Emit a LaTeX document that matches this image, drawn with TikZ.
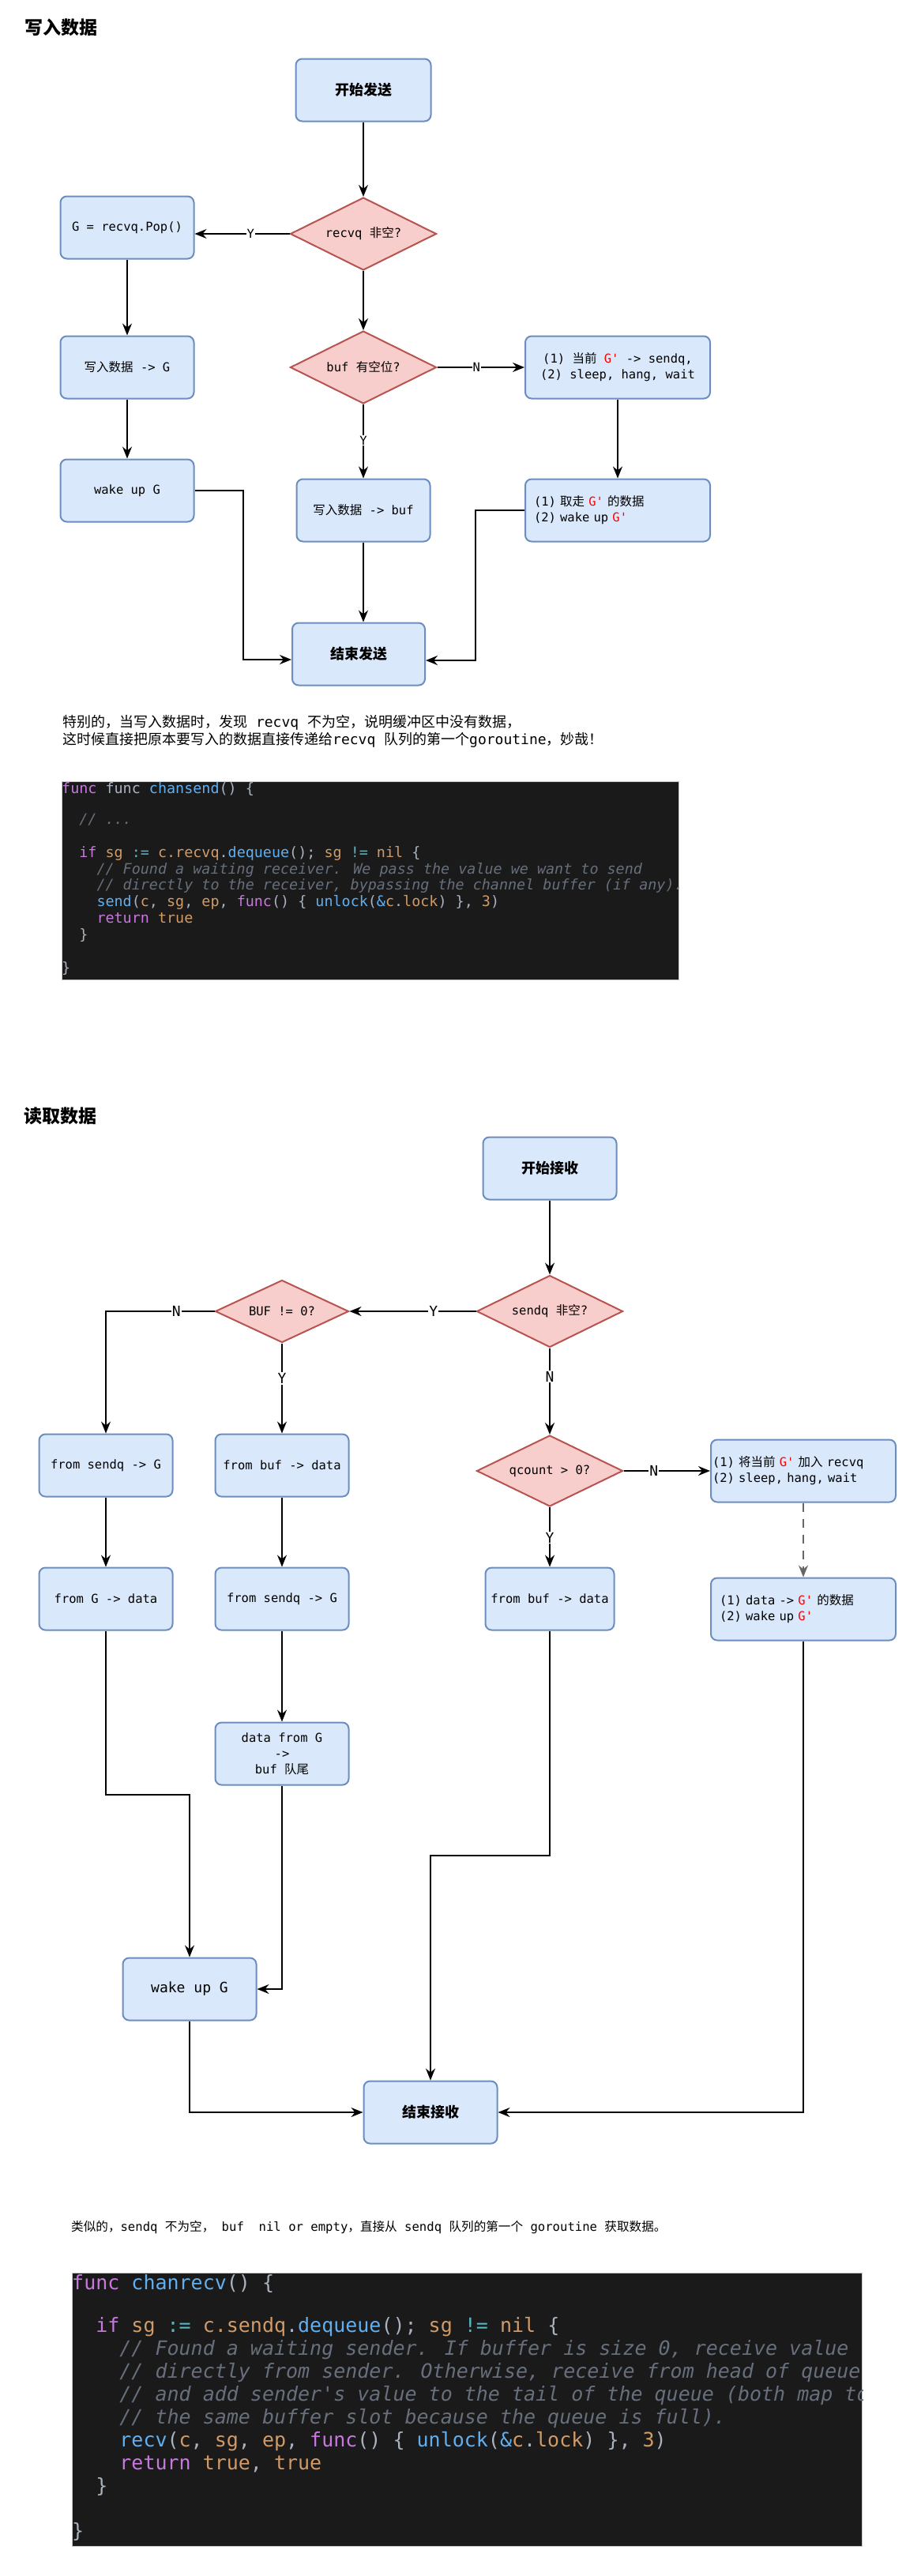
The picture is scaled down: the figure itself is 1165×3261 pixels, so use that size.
\documentclass[tikz,border=0pt]{standalone}
\usepackage{fontspec}
\usetikzlibrary{shapes.geometric,arrows.meta,calc}

\newfontfamily\mono{DejaVu Sans Mono}
\newfontfamily\cjk{Noto Sans CJK SC}

\definecolor{boxfill}{HTML}{DAE8FC}
\definecolor{boxline}{HTML}{6C8EBF}
\definecolor{decfill}{HTML}{F8CECC}
\definecolor{decline}{HTML}{B85450}
\definecolor{codebg}{HTML}{1A1A1A}
\definecolor{cplain}{HTML}{ABB2BF}
\definecolor{ckey}{HTML}{C678DD}
\definecolor{cfunc}{HTML}{61AFEF}
\definecolor{cvar}{HTML}{D19A66}
\definecolor{cop}{HTML}{56B6C2}
\definecolor{ccom}{HTML}{676F7D}
\definecolor{dashgray}{HTML}{666666}

% mixed Latin / Chinese text
\newcommand\zh[1]{{\cjk #1}}
\newcommand\gq{\textcolor{red}{G'}}
% syntax colouring for the code listings
\newcommand\cK[1]{\textcolor{ckey}{#1}}
\newcommand\cF[1]{\textcolor{cfunc}{#1}}
\newcommand\cV[1]{\textcolor{cvar}{#1}}
\newcommand\cO[1]{\textcolor{cop}{#1}}
\newcommand\cC[1]{\textcolor{ccom}{\itshape #1}}
\newcommand\lblfont{\mono\fontsize{15.5}{20}\selectfont}

\begin{document}
\begin{tikzpicture}[x=1pt,y=-1pt,
  box/.style={draw=boxline, fill=boxfill, line width=2pt, rounded corners=8pt,
    minimum width=169pt, minimum height=79pt, inner sep=2pt, align=center, font=\lblfont},
  wbox/.style={box, minimum width=234pt},
  bbox/.style={box, font=\mono\fontsize{18}{22}\selectfont\bfseries},
  dec/.style={diamond, aspect=2, draw=decline, fill=decfill, line width=2pt,
    minimum width=185pt, minimum height=92pt, inner sep=0pt, font=\lblfont},
  arr/.style={line width=1.8pt, -{Stealth[length=15pt,width=12pt,inset=5pt]}},
  lab/.style={fill=white, inner sep=1pt, font=\lblfont},
  labb/.style={fill=white, inner sep=1pt, font=\mono\fontsize{18}{22}\selectfont},
  title/.style={anchor=west, inner sep=0pt, font=\cjk\fontsize{23}{28}\selectfont\bfseries},
  para/.style={anchor=west, inner sep=0pt, text height=0.8em, text depth=0.2em},
  codeA/.style={anchor=west, inner sep=0pt, text=cplain, text height=0.75em, text depth=0.25em,
    font=\mono\fontsize{18.4}{21}\selectfont},
  codeB/.style={codeA, font=\mono\fontsize{25}{29}\selectfont},
  codebox/.style={anchor=north west, fill=codebg, draw=gray!45, line width=1pt, inner sep=0pt}
]
\fill[white] (0,0) rectangle (1165,3261);
\useasboundingbox (0,0) rectangle (1165,3261);

% ---------------- sending ----------------
\node[title] (title1) at (31,35) {写入数据};

\node[bbox, minimum width=171pt] (start1) at (460,114) {\zh{开始发送}};
\node[dec] (d1) at (460,296) {recvq \zh{非空}?};
\node[box] (pop) at (161,288) {G = recvq.Pop()};
\node[box] (w1) at (161,465) {\zh{写入数据} -> G};
\node[box] (wake1) at (161,621) {wake up G};
\node[dec] (d2) at (460,465) {buf \zh{有空位}?};
\node[wbox] (sendq1) at (782,465) {(1) \zh{当前} \gq{} -> sendq,\\(2) sleep, hang, wait};
\node[box] (wbuf) at (460,646) {\zh{写入数据} -> buf};
\node[wbox, text width=212pt, inner xsep=11pt, align=left] (take1) at (782,646)
  {(1) \zh{取走} \gq{} \zh{的数据}\\(2) wake up \gq};
\node[bbox, minimum width=168pt] (end1) at (454,828) {\zh{结束发送}};

\draw[arr] (start1.south) -- (d1.north);
\draw[arr] (d1.west) -- node[lab, pos=0.41] {Y} (d1.west -| pop.east);
\draw[arr] (d1.south) -- (d2.north);
\draw[arr] (pop.south) -- (w1.north);
\draw[arr] (w1.south) -- (wake1.north);
\draw[arr] (d2.east) -- node[lab, pos=0.45] {N} (sendq1.west);
\draw[arr] (d2.south) -- node[lab, pos=0.49] {Y} (wbuf.north);
\draw[arr] (sendq1.south) -- (take1.north);
\draw[arr] (wbuf.south) -- (wbuf.south |- end1.north);
\coordinate (k1) at (308,835);
\draw[arr] (wake1.east) -| (k1) -- (k1 -| end1.west);
\coordinate (k2) at (602,836);
\draw[arr] (take1.west) -| (k2) -- (k2 -| end1.east);

\node[para, font=\mono\fontsize{18}{22}\selectfont] (p1a) at (79,917)
  {\zh{特别的，当写入数据时，发现} recvq \zh{不为空，说明缓冲区中没有数据，}};
\node[para, font=\mono\fontsize{18}{22}\selectfont] (p1b) at (79,939)
  {\zh{这时候直接把原本要写入的数据直接传递给}recvq \zh{队列的第一个}goroutine\zh{，妙哉！}};

\node[codebox, minimum width=781pt, minimum height=251pt] (code1) at (78,989) {};
\begin{scope}
  \clip (code1.north west) rectangle (code1.south east);
  \node[codeA] (a0) at (78,1002) {\cK{func} func \cF{chansend}() \{};
  \node[codeA] (a2) at (78,1040.8) {\phantom{xx}\cC{// ...}};
  \node[codeA] (a4) at (78,1082.6) {\phantom{xx}\cK{if} \cV{sg} \cO{:=} \cV{c.recvq}.\cF{dequeue}(); \cV{sg} \cO{!=} \cV{nil} \{};
  \node[codeA] (a5) at (78,1103.5) {\phantom{xxxx}\cC{// Found a waiting receiver. We pass the value we want to send}};
  \node[codeA] (a6) at (78,1124.4) {\phantom{xxxx}\cC{// directly to the receiver, bypassing the channel buffer (if any).}};
  \node[codeA] (a7) at (78,1145.3) {\phantom{xxxx}\cF{send}(\cV{c}, \cV{sg}, \cV{ep}, \cK{func}() \{ \cF{unlock}(\cF{\&}\cV{c}.\cV{lock}) \}, \cV{3})};
  \node[codeA] (a8) at (78,1166.2) {\phantom{xxxx}\cK{return} \cV{true}};
  \node[codeA] (a9) at (78,1187.1) {\phantom{xx}\}};
  \node[codeA] (a11) at (78,1228.9) {\}};
\end{scope}

% ---------------- receiving ----------------
\node[title] (title2) at (30,1413) {读取数据};

\node[bbox] (start2) at (696,1479) {\zh{开始接收}};
\node[dec, minimum height=91pt] (ds) at (696,1660) {sendq \zh{非空}?};
\node[dec, minimum width=169pt, minimum height=79pt] (db) at (357,1660) {BUF != 0?};
\node[box] (fs1) at (134,1855) {from sendq -> G};
\node[box] (fb1) at (357,1855) {from buf -> data};
\node[dec, minimum height=90pt] (dq) at (696,1862) {qcount > 0?};
\node[wbox, text width=230pt, align=left] (rq) at (1017,1862)
  {(1) \zh{将当前} \gq{} \zh{加入} recvq\\(2) sleep, hang, wait};
\node[box] (fg) at (134,2024) {from G -> data};
\node[box] (fs2) at (357,2024) {from sendq -> G};
\node[box, minimum width=163pt] (fb2) at (696,2024) {from buf -> data};
\node[wbox, text width=212pt, inner xsep=11pt, align=left] (dg) at (1017,2037)
  {(1) data -> \gq{} \zh{的数据}\\(2) wake up \gq};
\node[box] (df) at (357,2220) {data from G\\->\\buf \zh{队尾}};
\node[box, font=\mono\fontsize{18}{22}\selectfont] (wake2) at (240,2518) {wake up G};
\node[bbox] (end2) at (545,2674) {\zh{结束接收}};

\draw[arr] (start2.south) -- (ds.north);
\draw[arr] (ds.west) -- node[labb, pos=0.335] {Y} (db.east);
\draw[arr] (db.west) -- node[labb, pos=0.35] {N} (db.west -| fs1.north) -- (fs1.north);
\draw[arr] (db.south) -- node[labb, pos=0.39] {Y} (fb1.north);
\draw[arr] (ds.south) -- node[labb, pos=0.33] {N} (dq.north);
\draw[arr] (dq.east) -- node[labb, pos=0.35] {N} (rq.west);
\draw[arr] (dq.south) -- node[labb, pos=0.51] {Y} (fb2.north);
\draw[line width=1.6pt, draw=dashgray, dash pattern=on 11pt off 9pt,
  -{Stealth[length=15pt,width=12pt,inset=5pt]}] (rq.south) -- (dg.north);
\draw[arr] (fs1.south) -- (fg.north);
\draw[arr] (fb1.south) -- (fs2.north);
\draw[arr] (fs2.south) -- (df.north);
\coordinate (k3) at (240,2272);
\draw[arr] (fg.south) |- (k3) -- (wake2.north);
\draw[arr] (df.south) |- (wake2.east);
\coordinate (k4) at (545,2349);
\draw[arr] (fb2.south) |- (k4) -- (end2.north);
\draw[arr] (wake2.south) |- (end2.west);
\draw[arr] (dg.south) |- (end2.east);

\node[para, font=\mono\fontsize{15.6}{20}\selectfont] (p2) at (90,2821)
  {\zh{类似的，}sendq \zh{不为空，}\ buf\ \ nil or empty\zh{，直接从} sendq \zh{队列的第一个} goroutine \zh{获取数据。}};

\node[codebox, minimum width=1000pt, minimum height=346pt] (code2) at (91,2877) {};
\begin{scope}
  \clip (code2.north west) rectangle (code2.south east);
  \node[codeB] (b0) at (91,2896) {\cK{func} \cF{chanrecv}() \{};
  \node[codeB] (b2) at (91,2950) {\phantom{xx}\cK{if} \cV{sg} \cO{:=} \cV{c.sendq}.\cF{dequeue}(); \cV{sg} \cO{!=} \cV{nil} \{};
  \node[codeB] (b3) at (91,2979) {\phantom{xxxx}\cC{// Found a waiting sender. If buffer is size 0, receive value}};
  \node[codeB] (b4) at (91,3008) {\phantom{xxxx}\cC{// directly from sender. Otherwise, receive from head of queue}};
  \node[codeB] (b5) at (91,3037) {\phantom{xxxx}\cC{// and add sender's value to the tail of the queue (both map to}};
  \node[codeB] (b6) at (91,3066) {\phantom{xxxx}\cC{// the same buffer slot because the queue is full).}};
  \node[codeB] (b7) at (91,3095) {\phantom{xxxx}\cF{recv}(\cV{c}, \cV{sg}, \cV{ep}, \cK{func}() \{ \cF{unlock}(\cF{\&}\cV{c}.\cV{lock}) \}, \cV{3})};
  \node[codeB] (b8) at (91,3124) {\phantom{xxxx}\cK{return} \cV{true}, \cV{true}};
  \node[codeB] (b9) at (91,3153) {\phantom{xx}\}};
  \node[codeB] (b11) at (91,3210) {\}};
\end{scope}
\end{tikzpicture}
\end{document}
